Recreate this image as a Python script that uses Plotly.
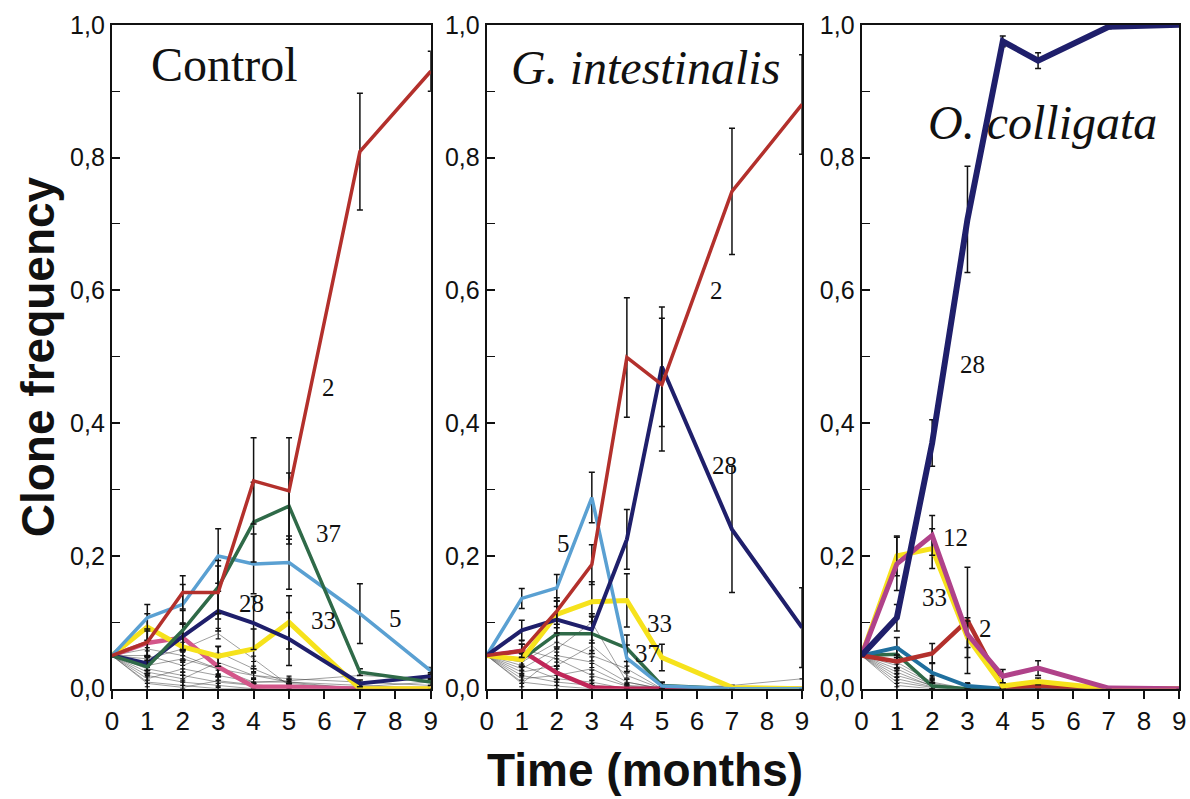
import plotly.graph_objects as go

# ── data ─────────────────────────────────────────────────────────
months = [0, 1, 2, 3, 4, 5, 7, 9]
x_ticks = [0, 1, 2, 3, 4, 5, 6, 7, 8, 9]
y_ticks = [0.0, 0.2, 0.4, 0.6, 0.8, 1.0]
y_ticklabels = ["0,0", "0,2", "0,4", "0,6", "0,8", "1,0"]
panel_titles = ["Control", "G. intestinalis", "O. colligata"]

# Control
ctl_2 = [0.05, 0.07, 0.145, 0.145, 0.313, 0.298, 0.809, 0.93]
ctl_2_err = [0, 0.02, 0.025, 0.04, 0.065, 0.08, 0.088, 0.03]
ctl_37 = [0.05, 0.033, 0.088, 0.153, 0.251, 0.275, 0.025, 0.01]
ctl_37_err = [0, 0.01, 0.03, 0.04, 0.06, 0.05, 0.005, 0.005]
ctl_5 = [0.05, 0.107, 0.127, 0.2, 0.188, 0.19, 0.113, 0.027]
ctl_5_err = [0, 0.02, 0.03, 0.041, 0.045, 0.04, 0.045, 0.005]
ctl_28 = [0.05, 0.038, 0.079, 0.117, 0.099, 0.075, 0.008, 0.019]
ctl_28_err = [0, 0.01, 0.02, 0.03, 0.04, 0.04, 0.005, 0.005]
ctl_33 = [0.05, 0.093, 0.063, 0.049, 0.06, 0.1, 0.0, 0.0]
ctl_33_err = [0, 0.02, 0.02, 0.015, 0.03, 0.04, 0, 0]
ctl_p = [0.05, 0.069, 0.077, 0.033, 0.003, 0.003, 0.0, 0.0]
ctl_p_err = [0, 0.02, 0.02, 0.015, 0.005, 0.005, 0, 0]
ctl_minor = [
    [0.05, 0.01, 0.005, 0.0, 0.0, 0.0, 0.0, 0.0],
    [0.05, 0.02, 0.01, 0.005, 0.0, 0.005, 0.003, 0.01],
    [0.05, 0.03, 0.02, 0.01, 0.005, 0.003, 0.0, 0.0],
    [0.05, 0.045, 0.06, 0.083, 0.045, 0.005, 0.0, 0.0],
    [0.05, 0.06, 0.05, 0.03, 0.01, 0.012, 0.02, 0.015],
    [0.05, 0.015, 0.03, 0.02, 0.01, 0.01, 0.005, 0.0],
    [0.05, 0.025, 0.015, 0.04, 0.02, 0.01, 0.0, 0.0],
    [0.05, 0.035, 0.045, 0.03, 0.02, 0.015, 0.01, 0.005],
    [0.05, 0.008, 0.002, 0.012, 0.006, 0.002, 0.0, 0.0],
    [0.05, 0.05, 0.035, 0.055, 0.03, 0.008, 0.0, 0.0],
]

# G. intestinalis
gi_2 = [0.05, 0.057, 0.117, 0.187, 0.499, 0.458, 0.749, 0.88]
gi_2_err = [0, 0.01, 0.02, 0.03, 0.09, 0.1, 0.095, 0.075]
gi_28 = [0.05, 0.088, 0.104, 0.089, 0.225, 0.485, 0.24, 0.092]
gi_28_err = [0, 0.015, 0.02, 0.02, 0.045, 0.09, 0.095, 0.06]
gi_5 = [0.05, 0.136, 0.152, 0.288, 0.046, 0.004, 0.0, 0.0]
gi_5_err = [0, 0.015, 0.02, 0.038, 0.02, 0.005, 0, 0]
gi_33 = [0.05, 0.044, 0.112, 0.131, 0.133, 0.047, 0.002, 0.0]
gi_33_err = [0, 0.01, 0.02, 0.03, 0.04, 0.02, 0.003, 0]
gi_37 = [0.05, 0.044, 0.083, 0.083, 0.061, 0.005, 0.0, 0.0]
gi_37_err = [0, 0.01, 0.02, 0.03, 0.02, 0.005, 0, 0]
gi_p = [0.05, 0.057, 0.024, 0.002, 0.0, 0.0, 0.0, 0.0]
gi_p_err = [0, 0.01, 0.01, 0.003, 0, 0, 0, 0]
gi_minor = [
    [0.05, 0.01, 0.004, 0.0, 0.0, 0.0, 0.0, 0.0],
    [0.05, 0.02, 0.01, 0.005, 0.002, 0.0, 0.005, 0.015],
    [0.05, 0.03, 0.06, 0.1, 0.01, 0.0, 0.0, 0.0],
    [0.05, 0.04, 0.07, 0.05, 0.03, 0.0, 0.0, 0.0],
    [0.05, 0.015, 0.02, 0.03, 0.005, 0.002, 0.0, 0.0],
    [0.05, 0.06, 0.045, 0.02, 0.004, 0.0, 0.0, 0.0],
    [0.05, 0.025, 0.035, 0.065, 0.02, 0.0, 0.0, 0.0],
    [0.05, 0.035, 0.015, 0.01, 0.0, 0.0, 0.0, 0.0],
    [0.05, 0.008, 0.05, 0.04, 0.01, 0.0, 0.0, 0.0],
]

# O. colligata
oc_28 = [0.05, 0.107, 0.37, 0.707, 0.975, 0.946, 0.997, 1.0]
oc_28_err = [0, 0.02, 0.035, 0.08, 0.008, 0.012, 0.003, 0]
oc_12 = [0.05, 0.188, 0.231, 0.082, 0.019, 0.031, 0.001, 0.0]
oc_12_err = [0, 0.04, 0.03, 0.02, 0.01, 0.011, 0, 0]
oc_33 = [0.05, 0.2, 0.211, 0.077, 0.004, 0.011, 0.0, 0.0]
oc_33_err = [0, 0.03, 0.03, 0.03, 0.004, 0.005, 0, 0]
oc_2 = [0.05, 0.041, 0.053, 0.103, 0.002, 0.004, 0.0, 0.0]
oc_2_err = [0, 0.01, 0.015, 0.08, 0.002, 0.003, 0, 0]
oc_b = [0.05, 0.062, 0.024, 0.004, 0.0, 0.0, 0.0, 0.0]
oc_b_err = [0, 0.015, 0.015, 0.004, 0, 0, 0, 0]
oc_g = [0.05, 0.052, 0.004, 0.0, 0.0, 0.0, 0.0, 0.0]
oc_g_err = [0, 0.01, 0.004, 0, 0, 0, 0, 0]
oc_minor = [
    [0.05, 0.005, 0.0, 0.0, 0.0, 0.0, 0.0, 0.0],
    [0.05, 0.01, 0.002, 0.0, 0.0, 0.0, 0.0, 0.0],
    [0.05, 0.015, 0.003, 0.0, 0.0, 0.0, 0.0, 0.0],
    [0.05, 0.02, 0.005, 0.0, 0.0, 0.0, 0.0, 0.0],
    [0.05, 0.025, 0.004, 0.0, 0.0, 0.0, 0.0, 0.0],
    [0.05, 0.03, 0.006, 0.0, 0.0, 0.0, 0.0, 0.0],
    [0.05, 0.035, 0.008, 0.0, 0.0, 0.0, 0.0, 0.0],
    [0.05, 0.04, 0.01, 0.0, 0.0, 0.0, 0.0, 0.0],
]
minor_err = [0, 0.012, 0.01, 0.008, 0.004, 0.004, 0, 0]

# clone labels: (text, month, freq)
ctl_labels = [("2", 6.1, 0.453), ("37", 6.1, 0.234), ("28", 3.95, 0.129),
              ("33", 5.96, 0.103), ("5", 8.0, 0.106)]
gi_labels = [("2", 6.56, 0.60), ("28", 6.8, 0.336), ("5", 2.19, 0.218),
             ("33", 4.94, 0.099), ("37", 4.6, 0.053)]
oc_labels = [("28", 3.13, 0.488), ("12", 2.65, 0.228), ("33", 2.08, 0.137),
             ("2", 3.5, 0.09)]

# ── style ────────────────────────────────────────────────────────
_RED = "#b3302c"
_GREEN = "#2f6a48"
_SKY = "#5aa0d2"
_NAVY = "#1f1f6b"
_YEL = "#f6e21c"
_PINK = "#d4568a"
_CRIM = "#c02658"
_MAG = "#b0428a"
_TEAL = "#1f6f9e"
_INKC = "#111111"
_SANS = "Liberation Sans, Arial, sans-serif"
_SERIF = "Liberation Serif, Times New Roman, serif"

panels = [
    dict(minor=ctl_minor, labels=ctl_labels, title_pos=(3.19, 0.94), italic=False,
         series=[(ctl_p, ctl_p_err, _PINK, 4.5), (ctl_33, ctl_33_err, _YEL, 5),
                 (ctl_28, ctl_28_err, _NAVY, 4), (ctl_5, ctl_5_err, _SKY, 3.5),
                 (ctl_37, ctl_37_err, _GREEN, 3.5), (ctl_2, ctl_2_err, _RED, 3.5)]),
    dict(minor=gi_minor, labels=gi_labels, title_pos=(4.52, 0.935), italic=True,
         series=[(gi_p, gi_p_err, _CRIM, 4.5), (gi_37, gi_37_err, _GREEN, 3.5),
                 (gi_33, gi_33_err, _YEL, 5), (gi_5, gi_5_err, _SKY, 3.5),
                 (gi_28, gi_28_err, _NAVY, 4), (gi_2, gi_2_err, _RED, 3.5)]),
    dict(minor=oc_minor, labels=oc_labels, title_pos=(5.12, 0.853), italic=True,
         series=[(oc_g, oc_g_err, _GREEN, 3.5), (oc_b, oc_b_err, _TEAL, 4),
                 (oc_2, oc_2_err, _RED, 4.5), (oc_33, oc_33_err, _YEL, 5),
                 (oc_12, oc_12_err, _MAG, 5), (oc_28, oc_28_err, _NAVY, 6)]),
]
domains = [(0.094, 0.362), (0.409, 0.674), (0.724, 0.991)]

fig = go.Figure()
annotations = []
for i, p in enumerate(panels):
    xa = "x" if i == 0 else f"x{i+1}"
    ya = "y" if i == 0 else f"y{i+1}"
    for g in p["minor"]:
        fig.add_trace(go.Scatter(
            x=months, y=g, mode="lines", xaxis=xa, yaxis=ya, showlegend=False,
            line=dict(color="rgba(60,60,60,0.7)", width=0.7),
            error_y=dict(type="data", array=minor_err, color=_INKC, thickness=1.2, width=2.5),
        ))
    for vals, err, col, w in p["series"]:
        fig.add_trace(go.Scatter(
            x=months, y=vals, mode="lines", xaxis=xa, yaxis=ya, showlegend=False,
            line=dict(color=col, width=w),
            error_y=dict(type="data", array=err, color=_INKC, thickness=1.5, width=3),
        ))
    for txt, mx, my in p["labels"]:
        annotations.append(dict(x=mx, y=my, xref=xa, yref=ya, text=txt, showarrow=False,
                                font=dict(family=_SERIF, size=25, color=_INKC)))
    tx, ty = p["title_pos"]
    ttl = f"<i>{panel_titles[i]}</i>" if p["italic"] else panel_titles[i]
    annotations.append(dict(x=tx, y=ty, xref=xa, yref=ya, text=ttl, showarrow=False,
                            font=dict(family=_SERIF, size=48, color=_INKC)))

annotations.append(dict(x=0.032, y=0.553, xref="paper", yref="paper", text="<b>Clone frequency</b>",
                        textangle=-90, showarrow=False, xanchor="center", yanchor="middle",
                        font=dict(family=_SANS, size=46, color=_INKC)))
annotations.append(dict(x=0.542, y=0.036, xref="paper", yref="paper", text="<b>Time (months)</b>",
                        showarrow=False, xanchor="center", yanchor="middle",
                        font=dict(family=_SANS, size=46, color=_INKC)))

layout = dict(width=1190, height=799, paper_bgcolor="white", plot_bgcolor="white",
              margin=dict(l=0, r=0, t=0, b=0), annotations=annotations)
for i, (d0, d1) in enumerate(domains):
    xk = "xaxis" if i == 0 else f"xaxis{i+1}"
    yk = "yaxis" if i == 0 else f"yaxis{i+1}"
    ya = "y" if i == 0 else f"y{i+1}"
    xa = "x" if i == 0 else f"x{i+1}"
    layout[xk] = dict(domain=[d0, d1], anchor=ya, range=[0, 9], tickvals=x_ticks,
                      automargin=False, showgrid=False, zeroline=False, showline=True,
                      linecolor=_INKC, linewidth=2, mirror=True, ticks="outside", ticklen=8,
                      tickwidth=1.5, tickcolor=_INKC,
                      tickfont=dict(family=_SANS, size=26, color=_INKC))
    layout[yk] = dict(domain=[0.138, 0.969], anchor=xa, range=[0, 1.0], tickvals=y_ticks,
                      ticktext=y_ticklabels, automargin=False, showgrid=False, zeroline=False,
                      showline=True, linecolor=_INKC, linewidth=2, mirror=True,
                      ticks="inside", ticklen=8, tickwidth=1.5, tickcolor=_INKC,
                      minor=dict(dtick=0.1, ticks="inside", ticklen=8, tickwidth=1.2,
                                 tickcolor=_INKC),
                      tickfont=dict(family=_SANS, size=25, color=_INKC))
fig.update_layout(**layout)
# page body has a default 8px margin; drop it so the figure fills the window
fig.write_html("out.html", config={"displayModeBar": False},
               post_script="document.body.style.margin='0';")
